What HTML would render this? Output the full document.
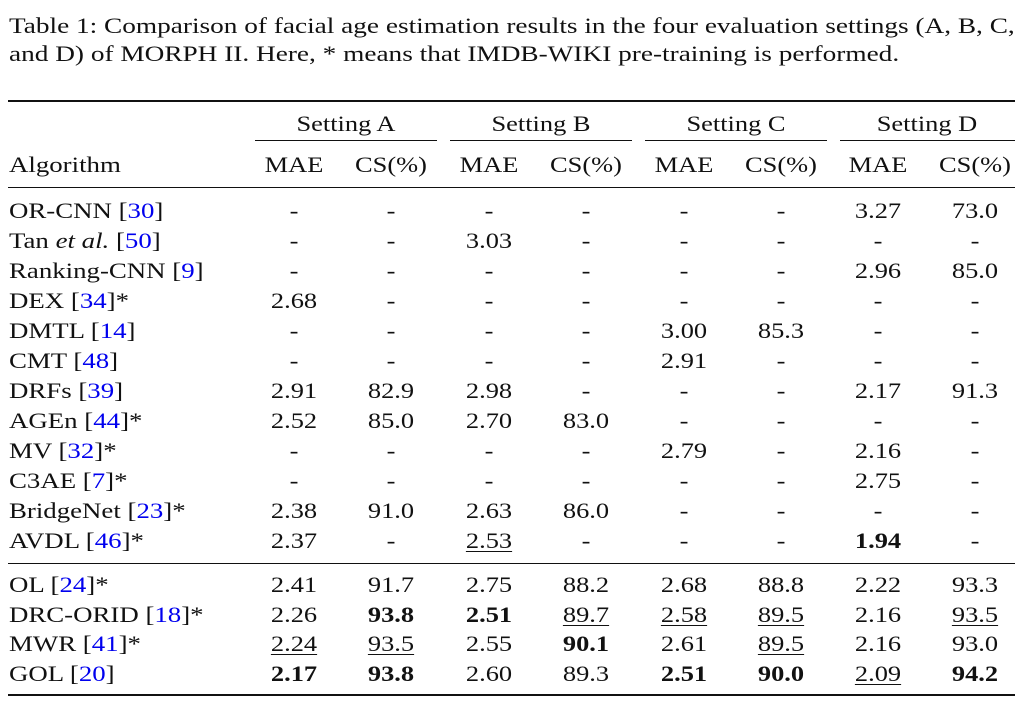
<!DOCTYPE html>
<html><head><meta charset="utf-8"><style>
body{margin:0;width:1033px;height:705px;background:#fff;position:relative;overflow:hidden;font-family:"Liberation Serif",serif;color:#111;font-size:22px}
.t{position:absolute;white-space:nowrap;line-height:26px;transform:scaleX(1.22);transform-origin:0 50%}
.cap{transform:scaleX(1.24)}
.c{position:absolute;width:110px;text-align:center;line-height:26px;white-space:nowrap;transform:scaleX(1.2);transform-origin:50% 50%}
.r{position:absolute;background:#111}
.b{color:#0000ee}
u{text-decoration:underline;text-underline-offset:3px;text-decoration-thickness:1px}
</style></head><body>
<div class="t cap" style="left:9px;top:13px">Table 1: Comparison of facial age estimation results in the four evaluation settings (A, B, C,</div>
<div class="t cap" style="left:9px;top:41px">and D) of MORPH II. Here, * means that IMDB-WIKI pre-training is performed.</div>
<div class="r" style="left:8px;top:100px;width:1007px;height:2px"></div>
<div class="r" style="left:255px;top:140px;width:182px;height:1px"></div>
<div class="r" style="left:450px;top:140px;width:182px;height:1px"></div>
<div class="r" style="left:645px;top:140px;width:182px;height:1px"></div>
<div class="r" style="left:840px;top:140px;width:175px;height:1px"></div>
<div class="r" style="left:8px;top:187px;width:1007px;height:1px"></div>
<div class="r" style="left:8px;top:563px;width:1007px;height:1px"></div>
<div class="r" style="left:8px;top:694px;width:1007px;height:2px"></div>
<div id="g"></div>
<script>
var X=[294,391,489,586,684,781,878,975];
var H='';
function cell(x,y,s){H+='<div class="c" style="left:'+(x-55)+'px;top:'+(y-13)+'px">'+s+'</div>';}
cell(346,124,'Setting A');cell(541,124,'Setting B');cell(736,124,'Setting C');cell(927,124,'Setting D');
H+='<div class="t" style="left:9px;top:152px">Algorithm</div>';
for(var i=0;i<8;i++)cell(X[i],165,i%2?'CS(%)':'MAE');
var rows=[
['OR-CNN [<span class=b>30</span>]','-','-','-','-','-','-','3.27','73.0'],
['Tan <i>et al.</i> [<span class=b>50</span>]','-','-','3.03','-','-','-','-','-'],
['Ranking-CNN [<span class=b>9</span>]','-','-','-','-','-','-','2.96','85.0'],
['DEX [<span class=b>34</span>]*','2.68','-','-','-','-','-','-','-'],
['DMTL [<span class=b>14</span>]','-','-','-','-','3.00','85.3','-','-'],
['CMT [<span class=b>48</span>]','-','-','-','-','2.91','-','-','-'],
['DRFs [<span class=b>39</span>]','2.91','82.9','2.98','-','-','-','2.17','91.3'],
['AGEn [<span class=b>44</span>]*','2.52','85.0','2.70','83.0','-','-','-','-'],
['MV [<span class=b>32</span>]*','-','-','-','-','2.79','-','2.16','-'],
['C3AE [<span class=b>7</span>]*','-','-','-','-','-','-','2.75','-'],
['BridgeNet [<span class=b>23</span>]*','2.38','91.0','2.63','86.0','-','-','-','-'],
['AVDL [<span class=b>46</span>]*','2.37','-','<u>2.53</u>','-','-','-','<b>1.94</b>','-'],
['OL [<span class=b>24</span>]*','2.41','91.7','2.75','88.2','2.68','88.8','2.22','93.3'],
['DRC-ORID [<span class=b>18</span>]*','2.26','<b>93.8</b>','<b>2.51</b>','<u>89.7</u>','<u>2.58</u>','<u>89.5</u>','2.16','<u>93.5</u>'],
['MWR [<span class=b>41</span>]*','<u>2.24</u>','<u>93.5</u>','2.55','<b>90.1</b>','2.61','<u>89.5</u>','2.16','93.0'],
['GOL [<span class=b>20</span>]','<b>2.17</b>','<b>93.8</b>','2.60','89.3','<b>2.51</b>','<b>90.0</b>','<u>2.09</u>','<b>94.2</b>']];
for(var r=0;r<rows.length;r++){
 var y=r<12?211+r*30:585+(r-12)*29.7;
 H+='<div class="t" style="left:9px;top:'+(y-13)+'px">'+rows[r][0]+'</div>';
 for(var i=0;i<8;i++)cell(X[i],y,rows[r][i+1]);
}
document.getElementById('g').innerHTML=H;
</script>
</body></html>
